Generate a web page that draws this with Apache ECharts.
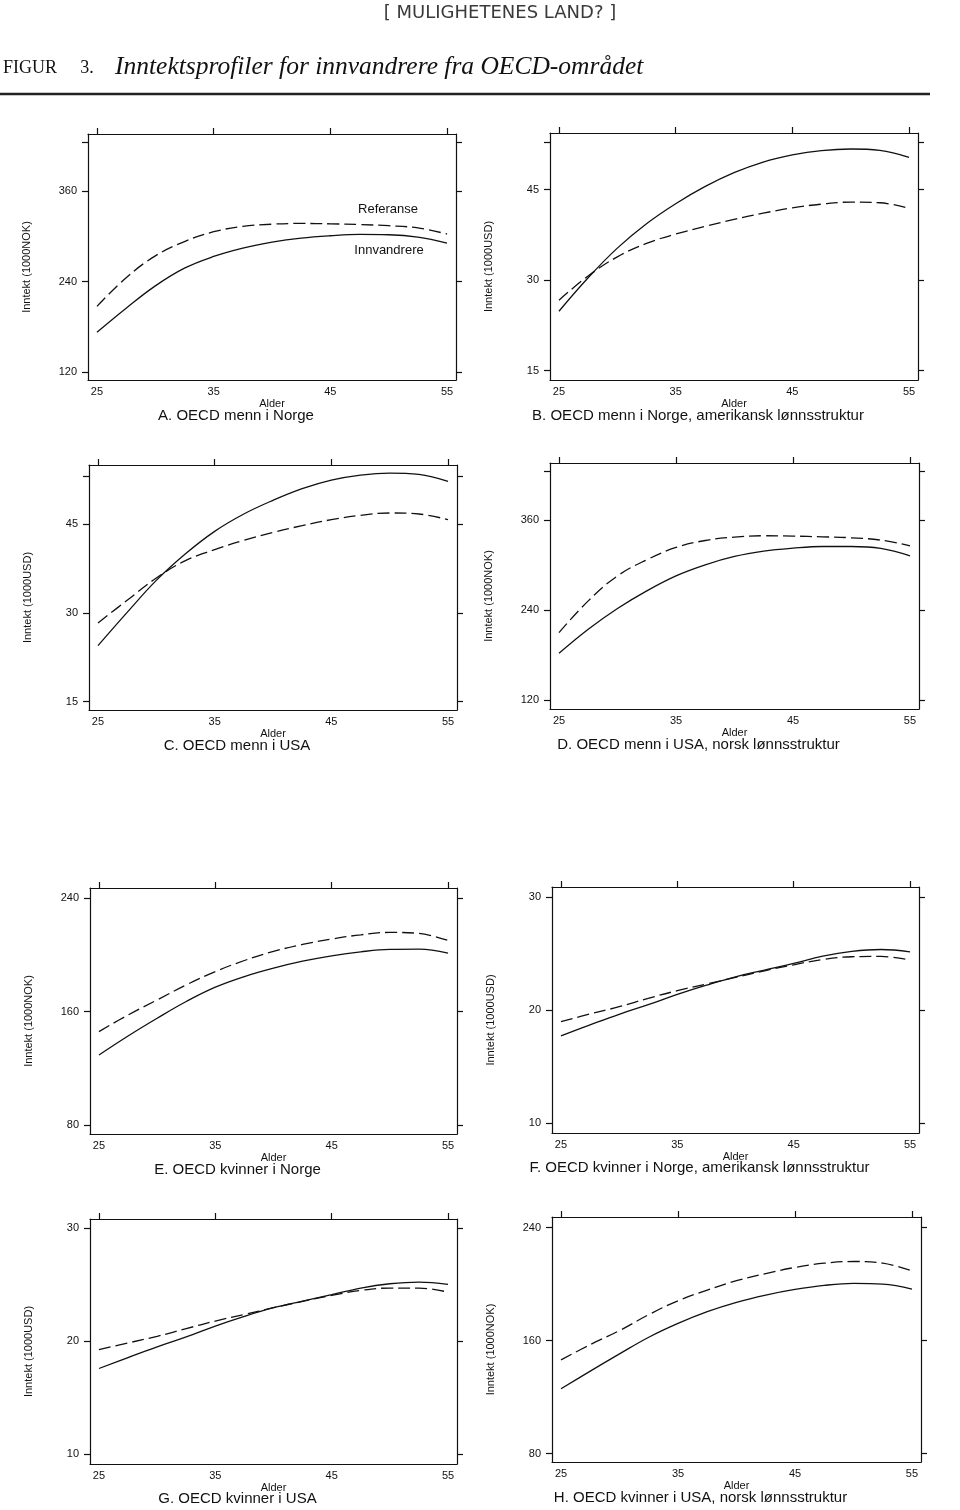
<!DOCTYPE html>
<html><head><meta charset="utf-8">
<script src="https://cdn.jsdelivr.net/npm/echarts@6/dist/echarts.min.js"></script>
<style>html,body{margin:0;padding:0;background:#fff}#c{width:960px;height:1510px}</style>
</head><body><div id="c"></div>
<script>
// ---------- data ----------
const ages = [25, 27.5, 30, 32.5, 35, 37.5, 40, 42.5, 45, 47.5, 50, 52.5, 55];
const seriesNames = ['Referanse', 'Innvandrere'];

const refA = [207, 245, 274, 293, 306, 313, 316, 317, 316.5, 315.5, 314, 311, 303];
const innA = [172.7, 204.6, 234.2, 257.7, 273.2, 284.3, 292.2, 297.6, 300.7, 302.4, 302, 298.9, 290.9];
const refB = [26.68, 30.7, 33.87, 36.1, 37.64, 38.9, 40.07, 41.1, 42.0, 42.6, 42.95, 42.84, 41.9];
const innB = [24.85, 30.4, 35.31, 39.35, 42.67, 45.5, 47.82, 49.59, 50.76, 51.48, 51.75, 51.53, 50.37];
const refC = [28.31, 32.14, 35.91, 38.84, 40.7, 42.27, 43.62, 44.75, 45.76, 46.49, 46.89, 46.72, 45.76];
const innC = [24.48, 30.1, 35.5, 40.0, 43.79, 46.72, 49.03, 51.0, 52.45, 53.3, 53.64, 53.42, 52.23];
const refD = [209.8, 252, 285.3, 306.7, 323.1, 332.4, 336.9, 338.7, 338.2, 337.3, 336, 332.9, 325.3];
const innD = [182.2, 214.2, 241.8, 265.3, 285.3, 300, 311.1, 318.2, 322.2, 324.4, 324.4, 321.8, 312];
const refE = [145.9, 157.6, 168.2, 178.8, 188.2, 196, 202.4, 207.3, 211.1, 214.1, 215.8, 215.1, 210.1];
const innE = [129.4, 142.8, 155.3, 167.1, 177.2, 184.7, 190.6, 195.5, 199.3, 202.1, 203.8, 204, 201.2];
const refF = [18.97, 19.65, 20.29, 21.03, 21.71, 22.29, 22.88, 23.47, 24.0, 24.47, 24.71, 24.74, 24.41];
const innF = [17.71, 18.68, 19.62, 20.47, 21.38, 22.2, 22.94, 23.53, 24.12, 24.76, 25.18, 25.35, 25.15];
const refG = [19.26, 19.85, 20.44, 21.12, 21.79, 22.38, 22.97, 23.53, 24.06, 24.5, 24.71, 24.71, 24.35];
const innG = [17.59, 18.56, 19.5, 20.38, 21.35, 22.21, 22.97, 23.56, 24.12, 24.71, 25.09, 25.24, 25.03];
const refH = [146.4, 157.2, 167.1, 178.4, 188.2, 195.8, 202.4, 207.5, 211.8, 214.8, 216, 214.8, 209.4];
const innH = [125.9, 138.4, 150.6, 162.4, 172.2, 180.5, 187.1, 192.2, 196.2, 199.1, 200.5, 200, 196.5];

const refSeries = [refA, refB, refC, refD, refE, refF, refG, refH];
const innSeries = [innA, innB, innC, innD, innE, innF, innG, innH];

const panelTitles = [
  'A. OECD menn i Norge',
  'B. OECD menn i Norge, amerikansk lønnsstruktur',
  'C. OECD menn i USA',
  'D. OECD menn i USA, norsk lønnsstruktur',
  'E. OECD kvinner i Norge',
  'F. OECD kvinner i Norge, amerikansk lønnsstruktur',
  'G. OECD kvinner i USA',
  'H. OECD kvinner i USA, norsk lønnsstruktur'
];
const yNames = ['Inntekt (1000NOK)', 'Inntekt (1000USD)', 'Inntekt (1000USD)', 'Inntekt (1000NOK)',
                'Inntekt (1000NOK)', 'Inntekt (1000USD)', 'Inntekt (1000USD)', 'Inntekt (1000NOK)'];
const xName = 'Alder';
const xTickLabels = [25, 35, 45, 55];
const yTickLabels = [[120, 240, 360], [15, 30, 45], [15, 30, 45], [120, 240, 360],
                     [80, 160, 240], [10, 20, 30], [10, 20, 30], [80, 160, 240]];
const yExtraTicks = [[424], [52.9], [53.1], [425], [], [], [], []];
const headerText = '[ MULIGHETENES LAND? ]';
const figWord = 'FIGUR';
const figNum = '3.';
const figTitle = 'Inntektsprofiler for innvandrere fra OECD-området';

// ---------- layout ----------
const grids = [
  {left: 88, top: 134, width: 368, height: 246},
  {left: 550, top: 133, width: 368, height: 247},
  {left: 89, top: 465, width: 368, height: 245},
  {left: 550, top: 463, width: 369, height: 246},
  {left: 90, top: 888, width: 367, height: 246},
  {left: 552, top: 887, width: 367, height: 246},
  {left: 90, top: 1219, width: 367, height: 245},
  {left: 552, top: 1217, width: 369, height: 245}
];
const xRange = [24.23, 55.77];
const yRanges = [[109.4, 435.6], [13.45, 54.4], [13.6, 55.0], [108, 435.6],
                 [73.7, 247.1], [9.12, 30.88], [9.14, 30.82], [74.1, 247.5]];
const titleY = [416, 416, 746, 745, 1170, 1168, 1499, 1498];

const INK = '#111';
const FONT = '"Liberation Sans", Arial, Helvetica, sans-serif';
const SERIF = '"Liberation Serif", "Times New Roman", serif';
const lineAx = {show: true, onZero: false, lineStyle: {color: INK, width: 1.2}};

const xAxes = [], yAxes = [], series = [], graphics = [];
grids.forEach((g, i) => {
  xAxes.push({
    type: 'value', gridIndex: i, min: xRange[0], max: xRange[1], position: 'bottom',
    axisLine: lineAx, axisTick: {show: false}, splitLine: {show: false},
    axisLabel: {customValues: xTickLabels, fontSize: 11, color: INK, margin: 6, fontFamily: FONT},
    name: xName, nameLocation: 'middle', nameGap: 18,
    nameTextStyle: {fontSize: 11, color: INK, fontFamily: FONT}
  });
  xAxes.push({
    type: 'value', gridIndex: i, min: xRange[0], max: xRange[1], position: 'top',
    axisLine: lineAx, axisLabel: {show: false}, splitLine: {show: false},
    axisTick: {show: true, customValues: xTickLabels, length: 6, lineStyle: {color: INK, width: 1.2}}
  });
  const tks = yTickLabels[i].concat(yExtraTicks[i]);
  yAxes.push({
    type: 'value', gridIndex: i, min: yRanges[i][0], max: yRanges[i][1], position: 'left',
    axisLine: lineAx, splitLine: {show: false},
    axisTick: {show: true, customValues: tks, length: 6, lineStyle: {color: INK, width: 1.2}},
    axisLabel: {customValues: yTickLabels[i], fontSize: 11, color: INK, margin: 11, fontFamily: FONT},
    name: yNames[i], nameLocation: 'middle', nameRotate: 90, nameGap: 56,
    nameTextStyle: {fontSize: 11, color: INK, fontFamily: FONT, padding: [0, 20, 0, 0]}
  });
  yAxes.push({
    type: 'value', gridIndex: i, min: yRanges[i][0], max: yRanges[i][1], position: 'right',
    axisLine: lineAx, axisLabel: {show: false}, splitLine: {show: false},
    axisTick: {show: true, customValues: tks, length: 6, lineStyle: {color: INK, width: 1.2}}
  });
  series.push({
    name: seriesNames[0], type: 'line', xAxisIndex: 2 * i, yAxisIndex: 2 * i,
    data: ages.map((a, j) => [a, refSeries[i][j]]), smooth: 0.4, showSymbol: false, silent: true,
    lineStyle: {color: INK, width: 1.3, type: [12, 5]}
  });
  series.push({
    name: seriesNames[1], type: 'line', xAxisIndex: 2 * i, yAxisIndex: 2 * i,
    data: ages.map((a, j) => [a, innSeries[i][j]]), smooth: 0.4, showSymbol: false, silent: true,
    lineStyle: {color: INK, width: 1.3, type: 'solid'}
  });
  graphics.push({
    type: 'text', x: g.left + g.width / 2 - 36, y: titleY[i],
    style: {text: panelTitles[i], font: '15px ' + FONT, fill: INK, textAlign: 'center', textVerticalAlign: 'middle'}
  });
});

graphics.push(
  {type: 'text', x: 500, y: 13, style: {text: headerText, font: '18px "DejaVu Sans", sans-serif', fill: '#3a3a3a', textAlign: 'center', textVerticalAlign: 'middle'}},
  {type: 'text', x: 3, y: 68, style: {
    text: '{a|' + figWord + '} {b|' + figNum + '}',
    textAlign: 'left', textVerticalAlign: 'middle', fill: INK,
    rich: {
      a: {font: '18px ' + SERIF, fill: INK, width: 74, lineHeight: 22},
      b: {font: '18px ' + SERIF, fill: INK, lineHeight: 22}
    }
  }},
  {type: 'text', x: 115, y: 67, style: {text: figTitle, font: 'italic 25.5px ' + SERIF, fill: INK, textAlign: 'left', textVerticalAlign: 'middle'}},
  {type: 'line', shape: {x1: 0, y1: 94, x2: 930, y2: 94}, style: {stroke: '#222', lineWidth: 2.5}},
  {type: 'text', x: 388, y: 209, style: {text: seriesNames[0], font: '13px ' + FONT, fill: INK, textAlign: 'center', textVerticalAlign: 'middle'}},
  {type: 'text', x: 389, y: 250, style: {text: seriesNames[1], font: '13px ' + FONT, fill: INK, textAlign: 'center', textVerticalAlign: 'middle'}}
);

const chart = echarts.init(document.getElementById('c'), null, {renderer: 'canvas'});
chart.setOption({
  animation: false,
  backgroundColor: '#fff',
  grid: grids.map(g => Object.assign({containLabel: false}, g)),
  xAxis: xAxes,
  yAxis: yAxes,
  series: series,
  graphic: graphics
});
</script>
</body></html>
